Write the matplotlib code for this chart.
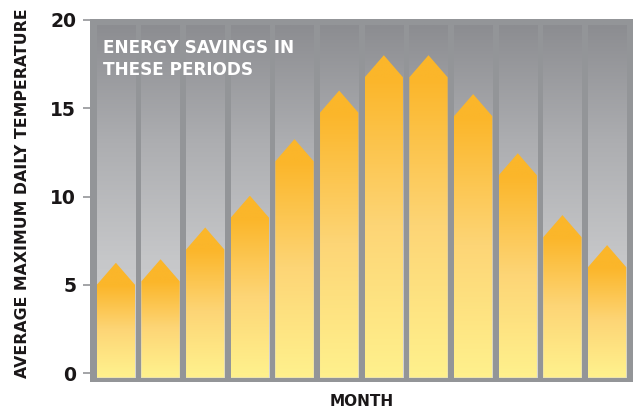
import numpy as np
import matplotlib
matplotlib.use('Agg')
import matplotlib.pyplot as plt
from matplotlib.colors import LinearSegmentedColormap
from matplotlib.patches import Polygon

# values (shoulder of each arrow)
months = ['Jan', 'Feb', 'Mar', 'Apr', 'May', 'Jun',
          'Jul', 'Aug', 'Sep', 'Oct', 'Nov', 'Dec']
temps = [5.0, 5.2, 7.0, 8.8, 12.0, 14.75, 16.75, 16.75, 14.55, 11.2, 7.7, 6.0]
yticks = [0, 5, 10, 15, 20]

HEAD = 1.25      # arrow head height
HW = 0.4285      # half column width
BASE = -0.25
COL_TOP = 19.7

FRAME = '#939598'
bg_cmap = LinearSegmentedColormap.from_list('bg', ['#d4d5d7', '#c6c7c9', '#adaeb1', '#8c8d91'])
bar_cmap = LinearSegmentedColormap.from_list('bar', ['#fff08c', '#fdd576', '#fbb62a'])

fig = plt.figure(figsize=(6.38, 4.08), dpi=100)
ax = fig.add_axes([90 / 638, 26 / 408, 543 / 638, 363 / 408])
ax.set_facecolor(FRAME)
for s in ax.spines.values():
    s.set_visible(False)

x = np.arange(len(months))
grad = np.linspace(0, 1, 256).reshape(-1, 1)

for i, v in zip(x, temps):
    # column background
    ax.imshow(grad, cmap=bg_cmap, origin='lower', aspect='auto',
              extent=(i - HW, i + HW, BASE, COL_TOP), zorder=1)
    # arrow bar
    pts = [(i - HW, BASE), (i + HW, BASE), (i + HW, v),
           (i, v + HEAD), (i - HW, v)]
    poly = Polygon(pts, closed=True, facecolor='none', edgecolor='none')
    ax.add_patch(poly)
    bar_grad = np.clip(np.linspace(BASE, v + HEAD, 256) / v, 0, 1).reshape(-1, 1)
    im = ax.imshow(bar_grad, cmap=bar_cmap, origin='lower', aspect='auto',
                   extent=(i - HW, i + HW, BASE, v + HEAD), zorder=2,
                   vmin=0, vmax=1)
    im.set_clip_path(poly)

ax.set_xlim(-0.58, len(months) - 1 + 0.58)
ax.set_ylim(-0.5, 20.05)
ax.set_xticks([])
ax.set_yticks(yticks)
ax.set_yticklabels([str(t) for t in yticks], fontsize=13.5, fontweight='heavy',
                   color='#1a1718')
ax.tick_params(axis='y', length=5, width=1.2, color=FRAME, pad=5)

ax.text(0.024, 0.945, 'ENERGY SAVINGS IN\nTHESE PERIODS', transform=ax.transAxes,
        color='white', fontsize=12.2, fontweight='bold', va='top', ha='left',
        linespacing=1.3, zorder=5)

fig.text(23 / 638, 1 - 193 / 408, 'AVERAGE MAXIMUM DAILY TEMPERATURE',
         rotation=90, ha='center', va='center', fontsize=11.3,
         fontweight='heavy', color='#1a1718')
fig.text(362 / 638, 1 - 401 / 408, 'MONTH', ha='center', va='center',
         fontsize=11, fontweight='heavy', color='#1a1718')

fig.savefig('out.png', dpi=100, facecolor='white')
